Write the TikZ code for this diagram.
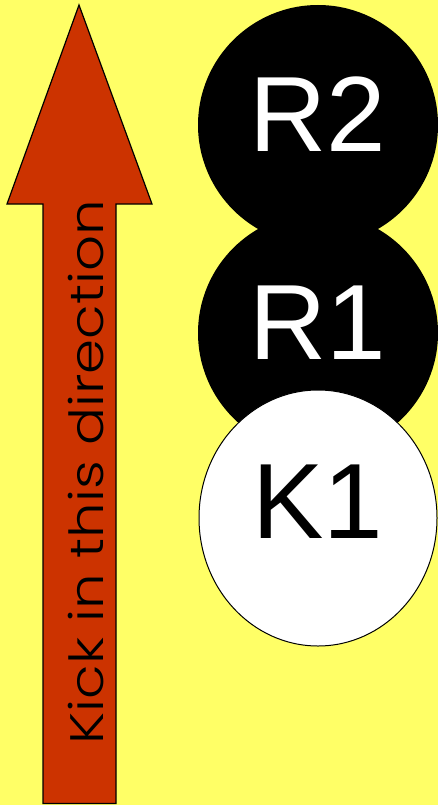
\documentclass[tikz,border=0pt]{standalone}
\usepackage{fontspec}
\setmainfont{Liberation Sans}
\IfFontExistsTF{Poppins Light}{\newfontfamily\kickfont{Poppins Light}}{\newfontfamily\kickfont{Poppins}}
\definecolor{fond}{HTML}{FFFF66}
\definecolor{fleche}{HTML}{CC3300}

\begin{document}
\begin{tikzpicture}[x=1pt, y=-1pt]
        % Fond
        \useasboundingbox (0,0) rectangle (438,805);
        \fill[fond] (0,0) rectangle (438,805);

        % Fleche
        \draw[fill=fleche, line width=1.2pt, line join=miter] (79,5) -- (152,204) -- (116,204) -- (116,803.5) -- (43,803.5) -- (43,204) -- (7,204) -- cycle;
        \node[rotate=90, anchor=base, inner sep=0pt] (kick) at (103,472) {\kickfont\fontsize{47}{50}\selectfont\resizebox{544pt}{\height}{Kick in this direction}};

        % Robots R2 et R1
        \fill[black] (318,125) circle (120);
        \fill[black] (318,333) circle (120);

        % Robot K1
        \draw[fill=white, line width=1pt] (318,518) ellipse (119 and 128);

        % Etiquettes
        \node[white, anchor=base, inner sep=0pt, font=\fontsize{107}{110}\selectfont] (R2) at (318,152) {R2};
        \node[white, anchor=base, inner sep=0pt, font=\fontsize{107}{110}\selectfont] (R1) at (318,359) {R1};
        \node[black, anchor=base, inner sep=0pt, font=\fontsize{107}{110}\selectfont] (K1) at (318,538) {K1};
\end{tikzpicture}
\end{document}
